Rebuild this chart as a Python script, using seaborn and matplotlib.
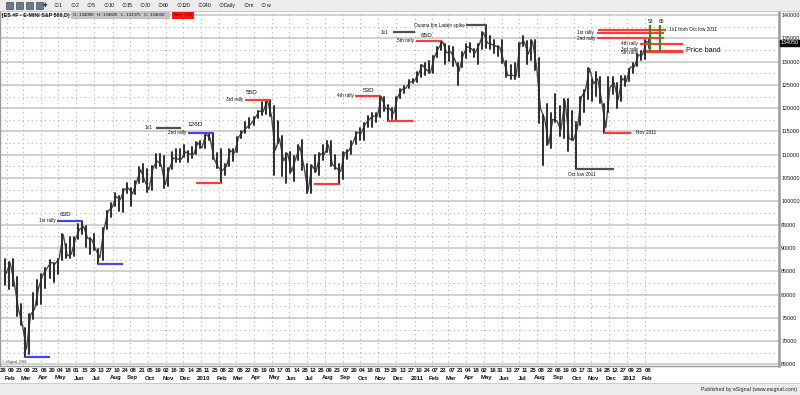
import numpy as np
import pandas as pd
import matplotlib
matplotlib.use("Agg")
import matplotlib.pyplot as plt
import matplotlib.transforms as mtransforms
from matplotlib.patches import Rectangle
import seaborn as sns

# ---------------- data ----------------
START = "2009-01-26"          # Monday of week 0
# weekly highs / lows of the E-mini S&P 500 (chart units = points x 100)
HIGH_2009 = [87700, 87000, 87700, 83800, 78000, 72900, 75800, 80400, 83200, 84500,
             85700, 87500, 86800, 87700, 93000, 90900, 92400, 92300, 95100, 95800,
             94700, 92100, 93000, 89800, 94300, 97900, 99600, 101800, 101200, 102700,
             103900, 102800, 104400, 107400, 108000, 106900, 107600, 110100, 110100, 109800,
             107100, 110600, 111300, 111200, 112000, 110800, 111700, 112800, 113000]
LOW_2009 = [82100, 81200, 81800, 75400, 73400, 66500, 67200, 74800, 77800, 77900,
            81400, 83600, 82600, 84500, 87500, 87800, 87900, 88200, 91900, 92900,
            90300, 88800, 89600, 86600, 87500, 94000, 96600, 99000, 97900, 97800,
            101700, 99100, 101600, 104000, 104100, 102000, 102500, 107200, 107500, 102900,
            103400, 106900, 108500, 108400, 109600, 108500, 109300, 110200, 111400]
HIGH_2010 = [114300, 114500, 114700, 110300, 111300, 108000, 111200, 111200, 113900, 115000,
             117000, 118000, 118200, 119500, 121400, 121700, 121800, 120500, 117300, 114100,
             110300, 110500, 109800, 112000, 113100, 108000, 107900, 110000, 110300, 112000,
             113000, 113000, 110000, 108000, 110500, 111100, 113000, 114900, 115800, 116800,
             118400, 118900, 119000, 122600, 122400, 120700, 120000, 122500, 124100, 124700,
             126000, 126200]
LOW_2010 = [111500, 113100, 109000, 107100, 103950, 105600, 107500, 108700, 110500, 113700,
            114700, 115700, 116500, 117900, 118600, 118800, 118300, 105700, 112600, 105500,
            104000, 106000, 104300, 108800, 106700, 101800, 101800, 106300, 105600, 108900,
            110500, 107500, 107000, 103800, 104900, 109000, 110200, 112300, 113200, 113200,
            116000, 116000, 117100, 118100, 119400, 117250, 117700, 117400, 122200, 123200,
            124300, 125400]
HIGH_2011 = [127800, 129300, 129600, 130200, 131100, 133100, 134400, 133800, 133300, 133200,
             129800, 132000, 133700, 133900, 132800, 133700, 136400, 137800, 135400, 134600,
             133400, 134600, 130200, 129200, 129800, 134000, 135600, 134400, 134700, 134600,
             130700, 118600, 120800, 119000, 123000, 120500, 122000, 122000, 119500, 117100,
             122400, 123900, 128700, 126300, 127700, 126700, 120800, 126600, 126700, 125500,
             127000, 127000]
LOW_2011 = [125700, 126800, 127100, 127600, 127600, 131000, 132500, 129400, 130200, 129100,
            124900, 128800, 130800, 132100, 130900, 129400, 132800, 133000, 132800, 131800,
            131100, 129600, 126800, 126200, 126200, 126700, 133300, 129500, 130300, 128300,
            116800, 107800, 112200, 111400, 117000, 114000, 113600, 110800, 113100, 107000,
            116500, 119100, 122000, 121500, 122600, 121200, 114700, 119200, 123100, 120000,
            121500, 124800]
HIGH_2012 = [128500, 129700, 131600, 132300, 134600, 134825]
LOW_2012 = [125900, 127500, 129100, 130400, 130600, 133000]
# weekly closes
CLOSE_2009 = [84500, 86800, 82600, 77000, 73500, 68300, 75600, 76900, 81500, 84200,
              85600, 86900, 86600, 87700, 92900, 88300, 88700, 91900, 94000, 94600,
              92100, 91800, 89600, 87900, 94000, 97900, 98700, 101000, 100400, 102600,
              102800, 101600, 104200, 106800, 104400, 102500, 107100, 108700, 107900, 103600,
              106900, 109300, 109100, 109100, 110600, 110200, 110100, 112600, 111500]
CLOSE_2010 = [114400, 113600, 109100, 107300, 106600, 107500, 110900, 110400, 113800, 114900,
              115900, 116600, 117800, 119400, 119200, 121700, 118600, 111000, 113500, 108700,
              110300, 106400, 109200, 111700, 107600, 102200, 107700, 106400, 110200, 110100,
              112100, 107900, 107100, 106400, 110400, 110900, 112500, 114800, 114600, 116500,
              117600, 118300, 118300, 122500, 119900, 119900, 118900, 122400, 124000, 124300,
              125600, 125800]
CLOSE_2011 = [127100, 129300, 128300, 127600, 131000, 132900, 134300, 131900, 132100, 130400,
              127900, 131300, 133200, 132800, 131900, 133700, 136200, 134000, 133700, 133300,
              133100, 130000, 127000, 127100, 126800, 133900, 134300, 131600, 134400, 129200,
              119900, 117800, 112300, 117600, 117300, 115400, 121600, 113500, 113100, 115500,
              122400, 123800, 128500, 125300, 126300, 121500, 115800, 124400, 125500, 121800,
              126400, 125700]
CLOSE_2012 = [128800, 128900, 131400, 131500, 134300, 134050]

DAY_LABELS = ["26", "09", "23", "09", "23", "06", "20", "04", "18", "01", "15", "29", "13", "27",
              "10", "24", "08", "21", "05", "19", "02", "16", "30", "14", "28",
              "11", "25", "08", "22", "08", "22", "05", "19", "03", "17", "01", "14", "28",
              "12", "26", "09", "23", "07", "20", "04", "18", "01", "15", "29", "13", "27",
              "10", "24", "07", "22", "07", "21", "04", "18", "02", "16", "31", "13", "27",
              "11", "25", "08", "22", "06", "19", "03", "17", "31", "14", "28", "12", "27",
              "09", "23", "06"]
MONTH_LABELS = ["Feb", "Mar", "Apr", "May", "Jun", "Jul", "Aug", "Sep", "Oct", "Nov", "Dec",
                "2010", "Feb", "Mar", "Apr", "May", "Jun", "Jul", "Aug", "Sep", "Oct", "Nov", "Dec",
                "2011", "Feb", "Mar", "Apr", "May", "Jun", "Jul", "Aug", "Sep", "Oct", "Nov", "Dec",
                "2012", "Feb"]
Y_TICKS = list(range(65000, 140001, 5000))
LAST_PRICE = 134050
HEADER_TITLE = "[ES #F - E-MINI S&P 500,D]"
HEADER_OHLC = "O: 134000   H: 134825   L: 133375   C: 134050"
HEADER_NET = "Net: -775"

# annotation lines: (start week, end week, price level, colour key)
H_LINES = [
    (5.4, 11.5, 66500, "blue"), (13.3, 19.4, 95800, "blue"), (23.4, 29.5, 86600, "blue"),
    (37.5, 43.7, 115750, "gray"), (45.3, 51.4, 114700, "blue"), (47.3, 53.4, 103950, "red"),
    (59.3, 65.4, 121800, "red"), (76.3, 82.4, 103800, "red"), (86.3, 92.4, 122600, "red"),
    (94.4, 100.5, 117250, "red"), (95.6, 101.0, 136350, "gray"), (101.3, 107.4, 134400, "red"),
    (113.6, 118.4, 137800, "gray"), (140.4, 149.8, 107000, "gray"), (147.4, 153.9, 114700, "red"),
    (145.8, 162.5, 136800, "red"), (145.6, 162.0, 136100, "red"), (145.6, 162.0, 135000, "red"),
    (156.1, 166.7, 133800, "red"), (157.6, 166.7, 132300, "red"), (157.6, 166.7, 132000, "red"),
]
V_LINES = [(158.6, 132000, 137800), (161.0, 132000, 137800)]
# text labels: (week, price, text, ha, size)
LABELS = [
    (15.4, 97200, "63D", "center", 4.6), (13.0, 95800, "1st rally", "right", 3.4),
    (36.6, 115750, "1x1", "right", 3.4), (44.9, 114700, "2nd rally", "right", 3.4),
    (47.0, 116400, "126D", "center", 4.6), (59.0, 121900, "3rd rally", "right", 3.4),
    (60.9, 123300, "55D", "center", 4.6), (86.0, 122700, "4th rally", "right", 3.4),
    (89.6, 123800, "53D", "center", 4.6), (94.4, 136350, "1x1", "right", 3.4),
    (100.8, 134500, "5th rally", "right", 3.4), (103.8, 135600, "65D", "center", 4.6),
    (113.3, 137850, "Osama bin Laden spike", "right", 3.4),
    (141.8, 105850, "Oct low 2011", "center", 3.4), (155.1, 114700, "Nov 2011", "left", 3.4),
    (163.2, 136800, "1x1 from Oct low 2011", "left", 3.4),
    (144.9, 136150, "1st rally", "right", 3.4), (145.2, 135000, "2nd rally", "right", 3.4),
    (155.6, 133850, "4th rally", "right", 3.4), (155.6, 132700, "3rd rally", "right", 3.4),
    (155.6, 131850, "5th rally", "right", 3.4), (167.3, 132300, "Price band", "left", 5.2),
    (158.8, 138550, "53", "center", 3.6), (161.3, 138550, "65", "center", 3.6),
]
COLORS = {"blue": "#4646e6", "red": "#ff3c3c", "gray": "#505050", "green": "#1e9a1e"}

# ---------------- figure ----------------
sns.set_theme(style="white")
plt.rcParams["font.family"] = ["Liberation Sans", "DejaVu Sans"]

W, H = 800, 395
fig = plt.figure(figsize=(8, 3.95), dpi=100)
fig.patch.set_facecolor("white")


def fx(px):
    return px / W


def fy(py):
    return 1 - py / H


ax = fig.add_axes([0, fy(366), 779 / W, fy(11) - fy(366)])
ax.set_facecolor("white")

highs = HIGH_2009 + HIGH_2010 + HIGH_2011 + HIGH_2012
lows = LOW_2009 + LOW_2010 + LOW_2011 + LOW_2012
closes = CLOSE_2009 + CLOSE_2010 + CLOSE_2011 + CLOSE_2012
n = len(highs)
week_x = np.arange(n) + 0.4
bars = pd.DataFrame({
    "x": np.repeat(week_x, 2),
    "price": np.ravel(np.column_stack([lows, highs])),
    "bar": np.repeat(np.arange(n), 2),
})
close_df = pd.DataFrame({"x": week_x + 0.35, "price": closes})

start = pd.Timestamp(START)
month_pos = [(d - start).days / 7.0 for d in pd.date_range("2009-02-01", "2012-02-01", freq="BMS")]
day_pos = np.arange(0, 2 * len(DAY_LABELS), 2)

ax.set_xlim(-0.735, 190.2)
ax.set_ylim(64675, 140858)

# grid
for v in Y_TICKS:
    ax.axhline(v, color="#cdcdcd", lw=1.3, zorder=0)
    ax.axhline(v + 2500, color="#b4b4b4", lw=0.8, ls=(0, (1, 3)), zorder=0)
for m in month_pos:
    ax.axvline(m, color="#b4b4b4", lw=0.8, ls=(0, (1, 3)), zorder=0)

sns.lineplot(data=bars, x="x", y="price", units="bar", estimator=None, sort=False,
             color="#2e2e2e", lw=1.4, legend=False, ax=ax, zorder=3)
sns.lineplot(data=close_df, x="x", y="price", estimator=None, sort=False,
             color="#4a4a4a", lw=1.0, legend=False, ax=ax, zorder=2)
ax.set_xlabel("")
ax.set_ylabel("")

for x0, x1, yv, c in H_LINES:
    ax.hlines(yv, x0, x1, color=COLORS[c], lw=1.6, zorder=4)
for xv, y0, y1 in V_LINES:
    ax.vlines(xv, y0, y1, color=COLORS["green"], lw=1.6, zorder=5)
for xv, yv, t, ha, s in LABELS:
    ax.text(xv, yv, t, ha=ha, va="center", fontsize=s, color="#111111", zorder=6)

# axes styling
ax.set_xticks([])
ax.yaxis.tick_right()
ax.set_yticks(Y_TICKS)
ax.set_yticklabels([str(v) for v in Y_TICKS], fontsize=3.9)
ax.tick_params(axis="y", length=0, pad=1.6, colors="#111111")
for side, sp in ax.spines.items():
    sp.set_color("#9a9a9a")
    sp.set_linewidth(1.0)
ax.spines["right"].set_linewidth(1.8)
ax.spines["top"].set_visible(False)

# last price box
ax.text(1.002, LAST_PRICE, str(LAST_PRICE), transform=mtransforms.blended_transform_factory(ax.transAxes, ax.transData),
        fontsize=3.9, color="white", va="center", ha="left",
        bbox=dict(facecolor="black", edgecolor="black", pad=0.5))

# x labels (two rows)
tr = mtransforms.blended_transform_factory(ax.transData, fig.transFigure)
for p, lab in zip(day_pos, DAY_LABELS):
    ax.text(p, fy(370.5), lab, transform=tr, ha="center", va="center", fontsize=4.3,
            fontweight="bold", color="#111111", clip_on=False)
for p, lab in zip(month_pos, MONTH_LABELS):
    ax.text(p + 0.6, fy(378), lab, transform=tr, ha="center", va="center", fontsize=4.3,
            fontweight="bold", color="#111111", clip_on=False)

ax.text(0.003, fy(362), "\u00a9 eSignal, 2009", transform=mtransforms.blended_transform_factory(ax.transAxes, fig.transFigure),
        fontsize=2.4, color="#333333", va="center", ha="left")

# top toolbar
fig.patches.append(Rectangle((0, fy(11)), 1, fy(0) - fy(11), transform=fig.transFigure,
                             facecolor="#ececec", edgecolor="none", zorder=0))
fig.add_artist(plt.Line2D([0, 1], [fy(11), fy(11)], transform=fig.transFigure, color="#c0c0c0", lw=0.6))
for i, gx in enumerate([6, 16, 26, 36]):
    fig.patches.append(Rectangle((fx(gx), fy(9)), fx(7), fy(2) - fy(9), transform=fig.transFigure,
                                 facecolor="#6a7a90", edgecolor="#333333", lw=0.4))
fig.text(fx(45), fy(5.5), "\u271a", fontsize=4, va="center", ha="center", color="#222222",
         family=["DejaVu Sans"])
tool_items = ["1", "2", "5", "10", "15", "30", "60", "120", "240", "Daily", "m", "w"]
tool_x = [53, 70, 86, 103, 121, 139, 157, 176, 197, 218, 243, 260]
for tx, t in zip(tool_x, tool_items):
    fig.text(fx(tx), fy(5.5), "\u2299", fontsize=4.5, va="center", ha="left", color="#333333",
             family=["DejaVu Sans"])
    fig.text(fx(tx + 6), fy(5.5), t, fontsize=3.8, va="center", ha="left", color="#111111")

# header line
fig.text(fx(2), fy(15.2), HEADER_TITLE, fontsize=3.8, fontweight="bold", va="center", ha="left", color="#111111")
fig.patches.append(Rectangle((fx(71), fy(18.5)), fx(99), fy(12) - fy(18.5), transform=fig.transFigure,
                             facecolor="#c4c4c4", edgecolor="none"))
fig.text(fx(73), fy(15.2), HEADER_OHLC, fontsize=3.2, va="center", ha="left", color="#111111")
fig.patches.append(Rectangle((fx(172), fy(18.5)), fx(22), fy(12) - fy(18.5), transform=fig.transFigure,
                             facecolor="#ff1414", edgecolor="none"))
fig.text(fx(183), fy(15.2), HEADER_NET, fontsize=3.2, va="center", ha="center", color="#3a0000")

# bottom status bar
fig.patches.append(Rectangle((0, 0), 1, fy(383), transform=fig.transFigure,
                             facecolor="#ececec", edgecolor="none", zorder=0))
fig.add_artist(plt.Line2D([0, 1], [fy(383), fy(383)], transform=fig.transFigure, color="#c8c8c8", lw=0.6))
fig.text(fx(797), fy(389), "Published by eSignal (www.esignal.com)", fontsize=3.8, va="center",
         ha="right", color="#222222")

fig.savefig("out.png", dpi=100)
